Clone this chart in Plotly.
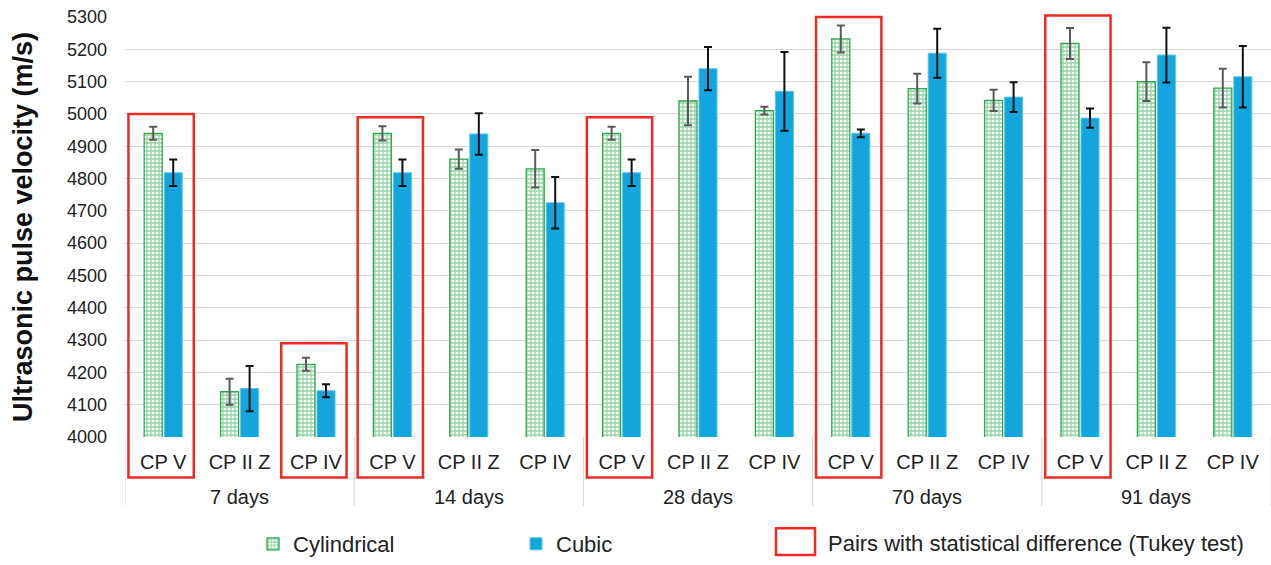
import plotly.graph_objects as go

# Ultrasonic pulse velocity by curing age and cement type
ages = ["7 days", "14 days", "28 days", "70 days", "91 days"]
cements = ["CP V", "CP II Z", "CP IV"]

cyl_mean = [4940, 4140, 4225, 4940, 4860, 4830, 4940, 5040, 5010, 5232, 5078, 5042, 5218, 5100, 5080]
cyl_err = [20, 40, 20, 22, 30, 58, 20, 75, 12, 42, 46, 33, 48, 60, 60]
cub_mean = [4818, 4150, 4143, 4818, 4938, 4725, 4818, 5140, 5070, 4940, 5188, 5052, 4987, 5182, 5115]
cub_err = [41, 70, 20, 41, 64, 80, 41, 67, 122, 12, 76, 46, 30, 85, 95]

# Pairs flagged by the Tukey test: (category index, top of highlight box in m/s)
tukey_idx = [0, 2, 3, 6, 9, 12]
tukey_top = [5000, 4290, 4990, 4990, 5300, 5305]

Y_MIN, Y_MAX = 4000, 5300

n_cat = len(ages) * len(cements)
xpos = list(range(n_cat))
tick_text = [c for _ in ages for c in cements]

# plot-area geometry in pixels, used to place the decorations below the axis
W, H = 1271, 565
ML, MR, MT, MB = 125, 0, 17, 124
PW, PH = W - ML - MR, H - MT - MB


def px_x(p):
    return (p - ML) / PW


def px_y(p):
    return (H - MB - p) / PH


GREEN = "#2fa84f"
BLUE = "#12a5de"
RED = "#ee2a24"

fig = go.Figure()
fig.add_trace(go.Bar(
    x=xpos, y=cyl_mean, name="Cylindrical",
    marker=dict(color="white", line=dict(color=GREEN, width=1.3),
                pattern=dict(shape="+", fgcolor=GREEN, bgcolor="white", size=4, solidity=0.55)),
    error_y=dict(type="data", array=cyl_err, color="#5a5a5a", thickness=2, width=4),
))
fig.add_trace(go.Bar(
    x=xpos, y=cub_mean, name="Cubic",
    marker=dict(color=BLUE, line=dict(color="#5cc3ea", width=1)),
    error_y=dict(type="data", array=cub_err, color="#111111", thickness=2, width=4),
))

# Red boxes around flagged pairs (extend down over the cement label)
box_bottom = px_y(482)
for i, top in zip(tukey_idx, tukey_top):
    fig.add_shape(type="rect", xref="x", yref="paper",
                  x0=i - 0.455, x1=i + 0.40,
                  y0=box_bottom, y1=(top - Y_MIN) / (Y_MAX - Y_MIN),
                  line=dict(color=RED, width=2.5), fillcolor="rgba(0,0,0,0)")

# Group dividers and age labels under the cement labels
for k in range(len(ages) + 1):
    fig.add_shape(type="line", xref="x", yref="paper",
                  x0=k * len(cements) - 0.5, x1=k * len(cements) - 0.5,
                  y0=0, y1=px_y(511), line=dict(color="#d6d6d6", width=1))
for k, age in enumerate(ages):
    fig.add_annotation(x=k * len(cements) + 1, y=px_y(502), xref="x", yref="paper",
                       text=age, showarrow=False, yanchor="middle",
                       font=dict(size=20, color="#222222"))

# Legend entry for the Tukey boxes
fig.add_shape(type="rect", xref="paper", yref="paper",
              x0=px_x(776), x1=px_x(815), y0=px_y(560), y1=px_y(533),
              line=dict(color=RED, width=2.5), fillcolor="rgba(0,0,0,0)", layer="above")
fig.add_annotation(x=px_x(826), y=px_y(549), xref="paper", yref="paper",
                   text="Pairs with statistical difference (Tukey test)",
                   showarrow=False, xanchor="left", yanchor="middle",
                   font=dict(size=22, color="#222222"))

font = "Liberation Sans, Arial, sans-serif"
fig.update_layout(
    width=W, height=H,
    margin=dict(l=ML, r=MR, t=MT, b=MB),
    paper_bgcolor="white", plot_bgcolor="white",
    barmode="group", bargap=0.476, bargroupgap=0.1,
    font=dict(family=font, size=18, color="#222222"),
    showlegend=True,
    legend=dict(orientation="h", x=px_x(253), xanchor="left", y=px_y(549), yanchor="middle",
                entrywidth=218, font=dict(size=22, color="#222222"), traceorder="normal",
                itemwidth=30, bgcolor="rgba(0,0,0,0)"),
)
fig.update_yaxes(
    range=[Y_MIN, Y_MAX], dtick=100, tick0=4000,
    showgrid=True, gridcolor="#d9d9d9", gridwidth=1, zeroline=False,
    tickfont=dict(size=18, color="#222222"), ticks="", ticklabelstandoff=17,
    title=dict(text="<b>Ultrasonic pulse velocity (m/s)</b>", font=dict(size=27, color="#111111"), standoff=26),
)
fig.update_xaxes(
    range=[-0.5, n_cat - 0.5], tickmode="array", tickvals=xpos, ticktext=tick_text,
    showgrid=False, zeroline=False, showline=False, ticks="",
    tickfont=dict(size=20, color="#222222"), ticklabelstandoff=11,
)

fig.write_html("out.html")
